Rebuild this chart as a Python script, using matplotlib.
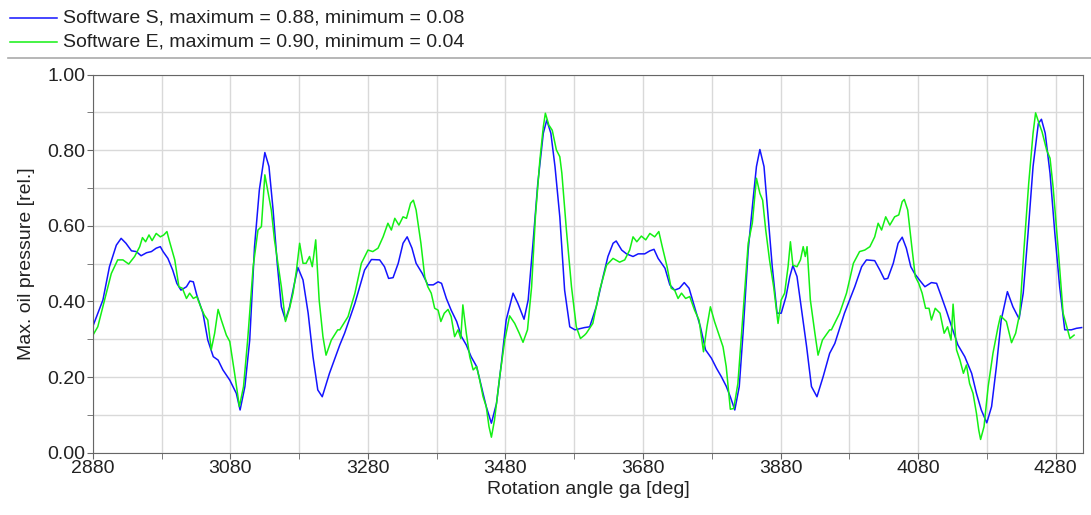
import matplotlib
matplotlib.use("Agg")
import matplotlib.pyplot as plt
import numpy as np

plt.rcParams['font.family'] = ['Liberation Sans', 'DejaVu Sans']

# Software S (blue)
angle_s = [2880, 2894.5, 2904, 2914, 2921, 2928, 2936, 2943, 2950, 2958, 2965, 2972, 2978, 2982,
           2989, 2996, 3002, 3008, 3016, 3021, 3026, 3031, 3040, 3047, 3055, 3062, 3069, 3079,
           3088.5, 3094, 3101, 3108, 3115, 3122, 3130, 3136, 3142, 3148, 3154, 3160, 3166, 3172,
           3178, 3185.5, 3193, 3200, 3207, 3213.5, 3224, 3239, 3246, 3261, 3275, 3285, 3297, 3304,
           3310, 3316.5, 3324, 3331, 3337, 3344, 3350, 3359, 3367, 3375, 3382, 3387, 3394, 3401,
           3409, 3416, 3423, 3430, 3438, 3445, 3452, 3459.5, 3467, 3474, 3481, 3491, 3498, 3507,
           3513, 3520, 3527, 3535, 3540, 3546, 3552, 3559, 3566, 3573.5, 3581, 3595, 3602.5, 3612,
           3622, 3629, 3636.5, 3641, 3649, 3656, 3665.5, 3673, 3682.5, 3690, 3696, 3702, 3712,
           3719, 3726, 3733, 3740, 3747, 3755, 3763.5, 3771, 3779.5, 3787, 3794, 3801, 3807,
           3813.5, 3820, 3825.5, 3833, 3840, 3845, 3850, 3856, 3862, 3868, 3875, 3881, 3888,
           3893.5, 3898, 3904, 3910, 3918, 3925, 3933, 3942, 3951.5, 3959, 3973, 3988, 3998, 4005,
           4017, 4024.5, 4031, 4036, 4044, 4051, 4057, 4063, 4069.5, 4075, 4082, 4090, 4099.5,
           4107, 4114, 4121, 4129, 4138, 4148, 4158, 4165, 4172, 4180, 4187, 4194, 4201, 4210,
           4218, 4227, 4233, 4240, 4247.3, 4255, 4259.5, 4265, 4272, 4279, 4286, 4293.4, 4303,
           4310.4, 4318]
pressure_s = [0.335, 0.404, 0.492, 0.549, 0.567, 0.554, 0.534, 0.532, 0.521, 0.529, 0.532, 0.541,
              0.545, 0.532, 0.514, 0.483, 0.448, 0.430, 0.439, 0.454, 0.452, 0.417, 0.369, 0.298,
              0.254, 0.245, 0.219, 0.192, 0.157, 0.113, 0.175, 0.298, 0.545, 0.695, 0.794, 0.757,
              0.642, 0.501, 0.386, 0.351, 0.386, 0.439, 0.490, 0.457, 0.369, 0.254, 0.166, 0.148,
              0.210, 0.285, 0.316, 0.395, 0.483, 0.511, 0.510, 0.492, 0.461, 0.463, 0.501, 0.554,
              0.571, 0.541, 0.501, 0.474, 0.444, 0.444, 0.452, 0.448, 0.408, 0.377, 0.347, 0.307,
              0.285, 0.254, 0.228, 0.175, 0.122, 0.078, 0.131, 0.236, 0.351, 0.422, 0.395, 0.353,
              0.404, 0.554, 0.713, 0.845, 0.880, 0.845, 0.757, 0.624, 0.430, 0.333, 0.325, 0.331,
              0.333, 0.386, 0.466, 0.519, 0.554, 0.560, 0.536, 0.526, 0.519, 0.526, 0.526, 0.534,
              0.538, 0.514, 0.488, 0.444, 0.430, 0.435, 0.450, 0.435, 0.386, 0.333, 0.272, 0.250,
              0.223, 0.201, 0.176, 0.148, 0.113, 0.175, 0.316, 0.536, 0.668, 0.757, 0.802, 0.757,
              0.624, 0.492, 0.369, 0.369, 0.413, 0.466, 0.495, 0.466, 0.386, 0.280, 0.175, 0.148,
              0.201, 0.263, 0.289, 0.369, 0.439, 0.492, 0.510, 0.508, 0.483, 0.459, 0.461, 0.501,
              0.554, 0.570, 0.541, 0.492, 0.474, 0.457, 0.439, 0.450, 0.448, 0.413, 0.377, 0.333,
              0.285, 0.254, 0.210, 0.157, 0.113, 0.079, 0.122, 0.228, 0.351, 0.426, 0.386, 0.354,
              0.422, 0.580, 0.757, 0.871, 0.882, 0.845, 0.739, 0.580, 0.439, 0.325, 0.325, 0.329,
              0.331]

# Software E (green)
angle_e = [2880, 2887, 2897, 2906.7, 2916, 2923.6, 2932, 2940.6, 2948, 2952, 2956.6, 2961.5, 2966,
           2972, 2978, 2983, 2987.6, 2991.5, 2999, 3005, 3010, 3016, 3020.6, 3026, 3031, 3037.6,
           3042, 3047, 3052, 3057, 3062, 3066.7, 3074, 3079, 3086, 3093, 3099, 3105, 3113, 3120,
           3125, 3130, 3135, 3139.4, 3144, 3149, 3154, 3160, 3166, 3171, 3176, 3180.6, 3185.5,
           3190, 3195, 3199, 3204, 3209, 3214.5, 3219, 3226.7, 3236, 3239, 3251, 3261, 3270.4,
           3280, 3287, 3294.6, 3302, 3309, 3314, 3319, 3325, 3331, 3336, 3342, 3346, 3350, 3357,
           3362.5, 3367, 3372, 3377, 3382, 3386, 3391, 3396.5, 3401, 3406, 3411, 3415, 3418, 3423,
           3428, 3433, 3438, 3442.5, 3447.4, 3452, 3456, 3459.5, 3464, 3471.6, 3479, 3486, 3493.4,
           3500, 3505.5, 3512, 3518, 3523.5, 3530, 3535, 3538, 3543, 3548, 3554, 3559, 3562,
           3568.6, 3576, 3583, 3589, 3595, 3597.6, 3607, 3617, 3627, 3636.4, 3646, 3653.4, 3660.6,
           3665.5, 3671, 3677.6, 3684, 3690, 3697, 3703, 3708, 3715, 3721, 3726, 3731, 3736, 3742,
           3748, 3755, 3761.5, 3768, 3773, 3778, 3784, 3791.5, 3796.4, 3801, 3807, 3812, 3818,
           3825.5, 3833, 3839, 3845, 3850, 3854, 3858.5, 3864, 3870, 3876.4, 3881, 3886, 3891,
           3894.4, 3898, 3904, 3909, 3913, 3916, 3918.6, 3923.4, 3930, 3934.6, 3941, 3951.5, 3954,
           3966, 3976, 3986, 3995, 4002.5, 4010, 4017, 4022, 4027, 4033, 4039, 4046, 4052, 4057,
           4060, 4065, 4070.4, 4076, 4081, 4086, 4091, 4096, 4099.5, 4105, 4112, 4118, 4123, 4128,
           4131, 4136, 4141, 4146, 4150.4, 4155, 4160, 4165, 4168.3, 4171, 4176, 4182, 4189,
           4196.4, 4200, 4208.5, 4216, 4222, 4228, 4234, 4241, 4247.3, 4251, 4256, 4260.4, 4267,
           4272, 4276.4, 4284, 4291, 4301, 4307]
pressure_e = [0.311, 0.333, 0.404, 0.474, 0.510, 0.510, 0.499, 0.519, 0.545, 0.569, 0.558, 0.576,
              0.561, 0.580, 0.571, 0.576, 0.585, 0.558, 0.510, 0.439, 0.435, 0.408, 0.422, 0.408,
              0.413, 0.382, 0.364, 0.351, 0.272, 0.316, 0.379, 0.351, 0.311, 0.294, 0.210, 0.122,
              0.175, 0.298, 0.492, 0.589, 0.598, 0.735, 0.686, 0.642, 0.563, 0.501, 0.439, 0.347,
              0.382, 0.422, 0.483, 0.554, 0.501, 0.501, 0.519, 0.492, 0.563, 0.404, 0.307, 0.258,
              0.298, 0.325, 0.325, 0.360, 0.422, 0.501, 0.536, 0.532, 0.541, 0.571, 0.607, 0.589,
              0.620, 0.602, 0.624, 0.620, 0.660, 0.668, 0.642, 0.554, 0.466, 0.439, 0.422, 0.382,
              0.377, 0.347, 0.369, 0.379, 0.360, 0.307, 0.325, 0.302, 0.391, 0.316, 0.254, 0.219,
              0.228, 0.192, 0.148, 0.122, 0.069, 0.041, 0.086, 0.201, 0.298, 0.362, 0.342, 0.316,
              0.292, 0.325, 0.439, 0.624, 0.774, 0.862, 0.898, 0.867, 0.853, 0.801, 0.783, 0.739,
              0.589, 0.439, 0.333, 0.302, 0.311, 0.316, 0.342, 0.430, 0.496, 0.514, 0.504, 0.510,
              0.536, 0.571, 0.558, 0.573, 0.563, 0.580, 0.571, 0.585, 0.545, 0.492, 0.435, 0.430,
              0.408, 0.422, 0.408, 0.413, 0.377, 0.351, 0.267, 0.333, 0.386, 0.347, 0.307, 0.280,
              0.228, 0.115, 0.117, 0.183, 0.369, 0.554, 0.607, 0.726, 0.686, 0.668, 0.589, 0.510,
              0.439, 0.342, 0.404, 0.422, 0.492, 0.558, 0.496, 0.492, 0.510, 0.545, 0.519, 0.545,
              0.404, 0.316, 0.258, 0.298, 0.325, 0.325, 0.369, 0.422, 0.501, 0.532, 0.536, 0.545,
              0.571, 0.607, 0.589, 0.624, 0.602, 0.624, 0.629, 0.664, 0.670, 0.642, 0.554, 0.466,
              0.448, 0.422, 0.382, 0.382, 0.351, 0.382, 0.369, 0.316, 0.333, 0.298, 0.393, 0.272,
              0.245, 0.210, 0.232, 0.183, 0.157, 0.104, 0.060, 0.035, 0.069, 0.175, 0.263, 0.333,
              0.362, 0.347, 0.291, 0.316, 0.369, 0.536, 0.713, 0.845, 0.899, 0.871, 0.849, 0.801,
              0.779, 0.704, 0.536, 0.369, 0.302, 0.311]

label_s = "Software S, maximum = 0.88, minimum = 0.08"
label_e = "Software E, maximum = 0.90, minimum = 0.04"
x_major = np.arange(2880, 4321, 200)
x_minor = np.arange(2980, 4321, 200)
y_major = np.arange(0, 1.01, 0.2)
y_minor = np.arange(0.1, 1.0, 0.2)

BLUE = "#1414ff"
GREEN = "#14f014"
TXT = "#222222"
FS = 14

fig = plt.figure(figsize=(10.91, 5.15), dpi=100)
ax = fig.add_axes([0.0852, 0.121, 0.9075, 0.734])

ax.plot(angle_s, pressure_s, color=BLUE, lw=1.1)
ax.plot(angle_e, pressure_e, color=GREEN, lw=1.1)

ax.set_xlim(2880, 4320)
ax.set_ylim(0, 1.0)
ax.set_xticks(x_major)
ax.set_xticks(x_minor, minor=True)
ax.set_yticks(y_major)
ax.set_yticks(y_minor, minor=True)
ax.set_yticklabels(["%.2f" % v for v in y_major])
ax.grid(True, which="both", color="#d9d9d9", lw=1)
ax.set_axisbelow(True)
ax.tick_params(which="both", direction="out", length=4, color="#666666", labelsize=FS,
               labelcolor=TXT, pad=1.5)
for s in ax.spines.values():
    s.set_color("#666666")
ax.set_xlabel("Rotation angle ga [deg]", fontsize=FS, color=TXT, labelpad=3)
ax.set_ylabel("Max. oil pressure [rel.]", fontsize=FS, color=TXT, labelpad=9)

# legend drawn at the top in figure coords
W, H = 1091, 515
for yy, c, lab in [(18, BLUE, label_s), (42, GREEN, label_e)]:
    fig.add_artist(plt.Line2D([10 / W, 57 / W], [1 - yy / H, 1 - yy / H], color=c, lw=1.1))
    fig.text(63 / W, 1 - yy / H, lab, fontsize=FS, color=TXT, va="center", ha="left")
fig.add_artist(plt.Line2D([8 / W, 1.0], [1 - 58 / H, 1 - 58 / H], color="#aaaaaa", lw=1.2))

fig.savefig("out.png", dpi=100)
